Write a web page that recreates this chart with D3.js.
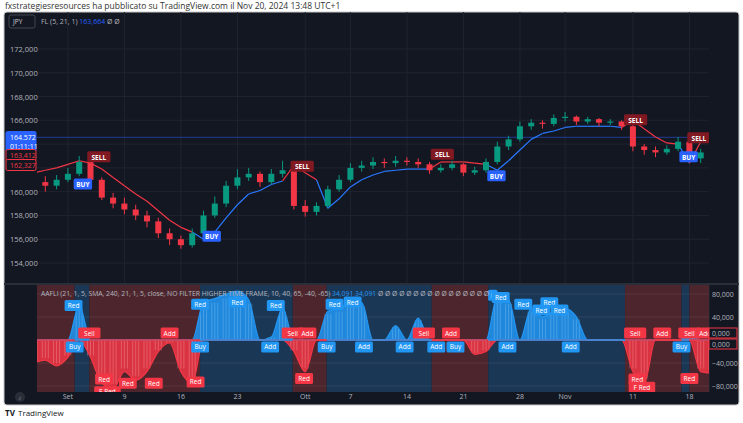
<!DOCTYPE html>
<html><head><meta charset="utf-8">
<script src="https://cdn.jsdelivr.net/npm/d3@7"></script>
<style>body{margin:0;background:#fff}svg{display:block;font-family:"Open Sans",sans-serif}</style>
</head><body><svg id="c" width="743" height="423"></svg>
<script>
// trading days Aug 28 .. Nov 20 (index 0..60)
const candles = [ // [open, high, low, close] in thousands JPY index
[161.2,161.6,160.3,160.8],[160.8,161.3,160.0,160.5],[160.5,161.4,160.2,161.0],[161.0,162.0,160.8,161.5],[161.5,163.0,161.3,162.5],
[162.5,162.7,160.7,161.0],[161.0,161.2,159.3,159.5],[159.5,159.9,158.6,159.0],[159.0,159.5,158.1,158.5],[158.5,158.9,157.6,158.0],
[158.0,158.4,157.0,157.5],[157.5,157.8,156.1,156.5],[156.5,156.9,155.5,156.0],[156.0,156.3,155.2,155.5],[155.5,156.9,155.3,156.5],
[156.5,158.4,156.3,158.0],[158.0,159.6,157.8,159.0],[159.0,160.9,158.7,160.5],[160.5,161.9,160.2,161.2],[161.2,162.0,160.9,161.5],
[161.5,161.7,160.4,160.8],[160.8,161.9,160.6,161.5],[161.5,162.6,161.2,161.8],[161.8,162.0,158.5,158.8],[158.8,159.3,157.9,158.3],
[158.3,159.1,158.0,158.8],[158.8,160.5,158.6,160.2],[160.2,161.4,160.0,161.0],[161.0,162.4,160.8,162.0],[162.0,162.6,161.7,162.2],
[162.2,162.9,161.9,162.5],[162.5,162.8,162.0,162.4],[162.4,163.0,162.1,162.6],[162.6,162.9,162.2,162.5],[162.5,162.8,162.0,162.3],
[162.3,162.5,161.5,161.8],[161.8,162.3,161.6,162.0],[162.0,162.6,161.8,162.3],[162.3,162.4,161.3,161.6],[161.6,162.1,161.4,161.8],
[161.8,162.8,161.6,162.5],[162.5,164.2,162.3,163.8],[163.8,164.7,163.5,164.4],[164.4,165.9,164.2,165.5],[165.5,166.1,165.2,165.8],
[165.8,166.0,165.3,165.7],[165.7,166.5,165.5,166.2],[166.2,166.7,165.9,166.3],[166.3,166.4,165.6,165.9],[165.9,166.3,165.7,166.1],
[166.1,166.2,165.5,165.8],[165.8,166.1,165.6,165.9],[165.9,166.0,165.2,165.5],[165.5,165.6,163.4,163.8],[163.8,164.0,163.1,163.5],
[163.5,163.8,162.9,163.3],[163.3,163.9,163.1,163.6],[163.6,164.6,163.4,164.2],[164.2,164.4,162.5,162.8],[162.8,163.6,162.4,163.3],
[163.3,163.5,161.1,161.5]];
const flValues = [161.6,161.8,162.0,162.3,162.6,162.4,161.9,161.2,160.5,159.8,159.2,158.4,157.6,157.0,156.6,
 156.0,156.6,157.8,158.9,159.8,160.1,160.6,160.9,162.2,161.6,161.0,158.6,159.4,160.4,161.0,
 161.4,161.7,161.8,161.9,161.9,161.9,162.5,162.5,162.5,162.4,162.3,161.8,162.6,163.5,164.4,
 164.9,165.1,165.4,165.5,165.5,165.5,165.5,165.4,166.0,165.3,164.6,164.1,164.0,162.4,164.2,164.3];
const flTrend = [-1,-1,-1,-1,-1,-1,-1,-1,-1,-1,-1,-1,-1,-1,-1,1,1,1,1,1,1,1,1,-1,-1,-1,1,1,1,1,
 1,1,1,1,1,1,-1,-1,-1,-1,-1,1,1,1,1,1,1,1,1,1,1,1,1,-1,-1,-1,-1,-1,1,-1,-1];
const oscValues = [-40,-35,-45,-30,60,-30,-75,-85,-55,-70,-55,-20,-5,-55,-75,65,72,80,85,70,
 0,5,55,-20,-55,0,50,55,65,65,0,0,25,0,38,0,0,0,0,-25,-20,75,70,0,55,40,50,55,40,0,
 0,0,0,-55,-75,0,0,0,8,-55,-58];
const priceTicks = [154,156,158,160,162,164,166,168,170,172];
const oscTicks = [80,40,-40,-80];
const dateLabels = [["Set",3],["9",8],["16",13],["23",18],["Ott",24],["7",28],["14",33],["21",38],["28",43],["Nov",47],["11",53],["18",58]];
const bands = [[-1,-0.5,3.6],[1,3.6,4.9],[-1,4.9,14.7],[1,14.7,22.9],[-1,22.9,25.9],[1,25.9,35.2],[-1,35.2,40.2],[1,40.2,52.3],[-1,52.3,57.3],[1,57.3,58.0],[-1,58.0,61]];
const mainSignals = [[4.8,162.9,"SELL"],[3.6,160.6,"BUY"],[22.8,162.1,"SELL"],[15.0,156.2,"BUY"],[35.2,163.1,"SELL"],[40.2,161.3,"BUY"],[52.3,166.0,"SELL"],[57.9,164.5,"SELL"],[57.2,162.9,"BUY"]];
const oscSignals = [[3.5,60,"Red",1],[3.6,-12,"Buy",1],[4.9,12,"Sell",-1],[6.2,-68,"Red",-1],[6.5,-90,"F Red",-1],[8.3,-75,"Red",-1],[10.6,-75,"Red",-1],
 [12.0,12,"Add",-1],[14.3,-73,"Red",-1],[14.7,-12,"Buy",1],[14.7,62,"Red",1],[18.0,66,"Red",1],[20.9,-12,"Add",1],[21.4,60,"Red",1],
 [22.9,12,"Sell",-1],[24.2,12,"Add",-1],[23.9,-67,"Red",-1],[25.9,-12,"Buy",1],[26.6,62,"Red",1],[28.2,66,"Red",1],[29.2,-12,"Add",1],
 [32.8,-12,"Add",1],[35.6,-12,"Add",1],[34.5,12,"Sell",-1],[36.9,12,"Add",-1],[37.3,-12,"Buy",1],[40.6,78,"F",1],[41.3,74,"Red",1],
 [41.9,-12,"Add",1],[43.3,62,"Red",1],[44.9,52,"Red",1],[45.6,65,"Red",1],[46.5,52,"Red",1],[47.5,-12,"Add",1],[53.2,12,"Sell",-1],
 [53.4,-68,"Red",-1],[53.8,-82,"F Red",-1],[55.6,12,"Add",-1],[57.3,-12,"Buy",1],[58.0,12,"Sell",-1],[58.0,-67,"Red",-1],[59.4,12,"Add",-1]];

const svg = d3.select("#c");
const BG="#131722", GRID="#20242f", TXT="#b2b5be", BLUE="#2196f3", RED="#f23645";
const x = d3.scaleLinear().domain([0,60]).range([34,712]);
const y = d3.scaleLinear().domain([154,172]).range([263,49]);
const yo = d3.scaleLinear().domain([-80,80]).range([386,294]);
const L=37,R=709;
svg.append("text").attr("x",5).attr("y",9).attr("font-size",8.5).attr("fill","#333").text("fxstrategiesresources ha pubblicato su TradingView.com il Nov 20, 2024 13:48 UTC+1");
svg.append("rect").attr("x",4).attr("y",12).attr("width",735).attr("height",393).attr("rx",3).attr("fill",BG).attr("stroke","#c8c8c8");
const defs=svg.append("defs");
defs.append("clipPath").attr("id","cm").append("rect").attr("x",L).attr("y",12).attr("width",R-L).attr("height",271);
defs.append("clipPath").attr("id","co").append("rect").attr("x",L).attr("y",285).attr("width",R-L).attr("height",107);
svg.append("line").attr("x1",4).attr("x2",739).attr("y1",284).attr("y2",284).attr("stroke","#2a2e39").attr("stroke-width",2);
svg.append("line").attr("x1",R).attr("x2",R).attr("y1",284).attr("y2",392).attr("stroke","#2a2e39");
const gm=svg.append("g").attr("clip-path","url(#cm)");
priceTicks.forEach(p=>gm.append("line").attr("x1",L).attr("x2",R).attr("y1",y(p)).attr("y2",y(p)).attr("stroke",GRID));
dateLabels.forEach(d=>gm.append("line").attr("x1",x(d[1])).attr("x2",x(d[1])).attr("y1",12).attr("y2",283).attr("stroke",GRID));
priceTicks.forEach(p=>{ if(p===162||p===164) return; svg.append("text").attr("x",10).attr("y",y(p)+3).attr("font-size",7.5).attr("fill",TXT).text(d3.format(",.3f")(p).replace(".",","));});
gm.append("line").attr("x1",L).attr("x2",R).attr("y1",y(164.572)).attr("y2",y(164.572)).attr("stroke","#2962ff").attr("stroke-opacity",0.5);
for(let i=0;i<flValues.length-1;i++){
  gm.append("line").attr("x1",x(i)).attr("x2",x(i+1)).attr("y1",y(flValues[i])).attr("y2",y(flValues[i+1]))
   .attr("stroke",flTrend[i+1]>0?"#2979ff":"#f23645").attr("stroke-width",1.2);
}
candles.forEach((c,i)=>{
  const up=c[3]>=c[0], col=up?"#089981":"#f23645";
  gm.append("line").attr("x1",x(i)).attr("x2",x(i)).attr("y1",y(c[1])).attr("y2",y(c[2])).attr("stroke",col);
  gm.append("rect").attr("x",x(i)-3).attr("width",6).attr("y",y(Math.max(c[0],c[3]))).attr("height",Math.max(1,Math.abs(y(c[0])-y(c[3])))).attr("fill",col);
});
mainSignals.forEach(s=>{
  const g=gm.append("g").attr("transform",`translate(${x(s[0])},${y(s[1])})`);
  g.append("rect").attr("x",-1).attr("y",-6).attr("width",s[2].length*4.8+4).attr("height",11).attr("rx",1.5).attr("fill",s[2]==="BUY"?"#2962ff":"#801922");
  g.append("text").attr("x",s[2].length*2.4+1).attr("y",2.5).attr("text-anchor","middle").attr("font-size",6.5).attr("font-weight","bold").attr("fill","#fff").text(s[2]);
});
svg.append("rect").attr("x",9).attr("y",15).attr("width",26).attr("height",13).attr("rx",2).attr("fill",BG).attr("stroke","#434651");
svg.append("text").attr("x",13).attr("y",24).attr("font-size",6.5).attr("fill","#d1d4dc").text("JPY");
const hd=svg.append("text").attr("x",41).attr("y",24).attr("font-size",7).attr("fill",TXT);
hd.append("tspan").text("FL (5, 21, 1) ");hd.append("tspan").attr("fill","#2962ff").text("163,664");hd.append("tspan").text("  Ø  Ø");
function pbox(py,txt,fill,stroke,tc){svg.append("rect").attr("x",6).attr("y",py-5.5).attr("width",30).attr("height",11).attr("rx",1.5).attr("fill",fill).attr("stroke",stroke);
 svg.append("text").attr("x",10).attr("y",py+3).attr("font-size",7).attr("fill",tc).text(txt);}
pbox(137,"164,572","#2962ff","#2962ff","#fff");
pbox(146,"01:11:11","#2962ff","#2962ff","#fff");
pbox(155,"163,412",BG,RED,RED);
pbox(165,"162,327",BG,RED,RED);
const go=svg.append("g").attr("clip-path","url(#co)");
bands.forEach(b=>go.append("rect").attr("x",x(b[1])).attr("width",x(b[2])-x(b[1])).attr("y",285).attr("height",107).attr("fill",b[0]>0?"#1b3756":"#4d262d"));
[80,40,0,-40,-80].forEach(v=>go.append("line").attr("x1",L).attr("x2",R).attr("y1",yo(v)).attr("y2",yo(v)).attr("stroke","#ffffff").attr("stroke-opacity",0.07));
const pos=oscValues.map(v=>Math.max(0,v)), neg=oscValues.map(v=>Math.min(0,v));
const cv=d3.curveMonotoneX;
const ar=d3.area().x((d,i)=>x(i)).y0(yo(0)).y1(d=>yo(d)).curve(cv);
go.append("path").attr("d",ar(pos)).attr("fill",BLUE).attr("fill-opacity",0.85);
go.append("path").attr("d",ar(neg)).attr("fill",RED).attr("fill-opacity",0.85);
oscValues.forEach((v,i)=>{ if(!v) return; for(let k=-1;k<=1;k++){const xx=x(i)+k*3; go.append("line").attr("x1",xx).attr("x2",xx).attr("y1",yo(0)).attr("y2",yo(v*0.9)).attr("stroke",v>0?"#90caf9":"#ffabab").attr("stroke-width",0.5).attr("stroke-opacity",0.7);}});
go.append("path").attr("d",d3.line().x((d,i)=>x(i)).y(d=>yo(d)).curve(cv)(pos)).attr("fill","none").attr("stroke",BLUE).attr("stroke-width",1.3);
go.append("path").attr("d",d3.line().x((d,i)=>x(i)).y(d=>yo(d)).curve(cv)(neg)).attr("fill","none").attr("stroke",RED).attr("stroke-width",1.3);
bands.forEach(b=>go.append("line").attr("x1",x(b[1])).attr("x2",x(b[2])).attr("y1",yo(0)).attr("y2",yo(0)).attr("stroke",b[0]>0?BLUE:RED).attr("stroke-width",1.5));
oscSignals.forEach(s=>{
  const w=s[2].length*4.3+5, g=go.append("g").attr("transform",`translate(${x(s[0])},${yo(s[1])})`);
  g.append("rect").attr("x",-w/2).attr("y",-5.5).attr("width",w).attr("height",11).attr("rx",1.5).attr("fill",s[3]>0?"#2196f3":"#f23645");
  g.append("text").attr("y",2.5).attr("text-anchor","middle").attr("font-size",6.5).attr("fill","#fff").text(s[2]);
});
const oh=svg.append("text").attr("x",41).attr("y",296).attr("font-size",6.8).attr("fill",TXT);
oh.append("tspan").text("AAFLI (21, 1, 5, SMA, 240, 21, 1, 5, close, NO FILTER HIGHER TIME FRAME, 10, 40, 65, -40, -65) ");
oh.append("tspan").attr("fill",BLUE).text("34,091  34,091");oh.append("tspan").text("  Ø Ø Ø Ø Ø Ø Ø Ø Ø Ø Ø Ø Ø Ø Ø Ø");
oscTicks.forEach(v=>svg.append("text").attr("x",712).attr("y",yo(v)+3).attr("font-size",7).attr("fill",TXT).text(d3.format(",.3f")(v).replace(".",",")));
[333,344].forEach(py=>{svg.append("rect").attr("x",709).attr("y",py-5).attr("width",28).attr("height",10).attr("fill",BG).attr("stroke",RED);
 svg.append("text").attr("x",712).attr("y",py+2.5).attr("font-size",7).attr("fill",TXT).text("0,000");});
dateLabels.forEach(d=>svg.append("text").attr("x",x(d[1])).attr("y",399).attr("text-anchor","middle").attr("font-size",7).attr("fill",TXT).text(d[0]));
svg.append("circle").attr("cx",20).attr("cy",397).attr("r",5).attr("fill","#2a2e39");
svg.append("text").attr("x",20).attr("y",399.5).attr("text-anchor","middle").attr("font-size",6).attr("fill","#787b86").text("z");
svg.append("text").attr("x",5).attr("y",416).attr("font-size",8).attr("font-weight","bold").attr("fill","#131722").text("TV");
svg.append("text").attr("x",18).attr("y",416).attr("font-size",8).attr("fill","#131722").text("TradingView");
</script></body></html>
